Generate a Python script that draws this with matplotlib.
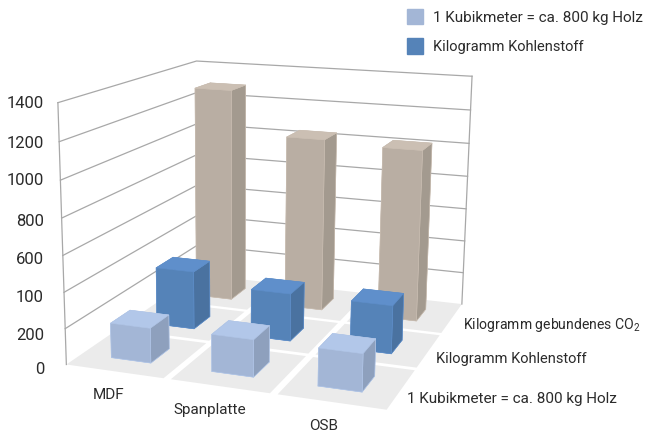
import matplotlib
matplotlib.use("Agg")
import matplotlib.pyplot as plt
from matplotlib.patches import Patch
from mpl_toolkits.mplot3d.art3d import Poly3DCollection

categories = ["MDF", "Spanplatte", "OSB"]
series = ["1 Kubikmeter = ca. 800 kg Holz", "Kilogramm Kohlenstoff", "Kilogramm gebundenes CO$_2$"]
holz = [195, 205, 205]
kohlenstoff = [340, 275, 275]
co2 = [1295, 1040, 1020]
z_ticks = [0, 200, 400, 600, 800, 1000, 1200, 1400]
z_labels = ["0", "200", "100", "600", "800", "1000", "1200", "1400"]

# front, side, top
holz_colors = ("#a3b6d6", "#8ea0bd", "#b2c7e9")
kohlenstoff_colors = ("#5583b8", "#4a72a0", "#5f8fcb")
co2_colors = ("#b9aea3", "#a39a8f", "#cbbfb3")
TEXT = "#2b2b2b"
GRID = "#a8a8a8"
TILE = "#ebebeb"

BAR_W = 0.40
BAR_D = 0.40
ROW_SHIFT = -0.0075
TILE_GAP = 0.035

# label places in pixels of the 646x432 picture
Z_LABEL_Y = [369, 335, 298, 260, 221, 180, 143, 104]
CATEGORY_XY = [(109, 395), (210, 410), (324, 426)]
SERIES_XY = [(407, 399), (436, 359), (463, 325)]
SERIES_SIZE = [11, 10.5, 10.1]

plt.rcParams["font.family"] = ["Roboto", "DejaVu Sans"]
plt.rcParams["mathtext.default"] = "regular"
plt.rcParams["font.size"] = 11

fig = plt.figure(figsize=(6.46, 4.32), dpi=100)
ax = fig.add_subplot(projection="3d", computed_zorder=False)


def draw_bar(col, row, value, colors, zorder):
    """One box, the faces go bottom, top, front, back, left, right"""
    front, side, top = colors
    ax.bar3d(col + 0.5 - BAR_W / 2 + row * ROW_SHIFT, row + 0.5 - BAR_D / 2, 0, BAR_W, BAR_D, value,
             color=[front, top, front, front, side, side], shade=False,
             edgecolor=top, linewidth=0.4, zorder=zorder)


def label(x, y, text, **kwargs):
    fig.text(x / 646, 1 - y / 432, text, color=TEXT, va="center", **kwargs)


# floor tiles, no gap along the outside of the floor
tiles = []
for col in range(len(categories)):
    for row in range(len(series)):
        x0 = col + TILE_GAP if col > 0 else 0
        x1 = col + 1 - TILE_GAP if col < 2 else 3
        y0 = row + TILE_GAP if row > 0 else 0
        y1 = row + 1 - TILE_GAP if row < 2 else 3
        tiles.append([(x0, y0, 0), (x1, y0, 0), (x1, y1, 0), (x0, y1, 0)])
ax.add_collection3d(Poly3DCollection(tiles, facecolor=TILE, edgecolor="none", zorder=1))

# walls
for z in z_ticks[1:]:
    ax.plot([0, 0, 3], [0, 3, 3], [z, z, z], color=GRID, lw=0.9, zorder=2)
ax.plot([0, 0], [0, 0], [0, 1400], color=GRID, lw=0.9, zorder=2)
ax.plot([3, 3], [3, 3], [0, 1400], color=GRID, lw=0.9, zorder=2)

# back row first so the front bars cover it
for row, (values, colors) in enumerate([(holz, holz_colors), (kohlenstoff, kohlenstoff_colors),
                                        (co2, co2_colors)]):
    for col, value in enumerate(values):
        draw_bar(col, row, value, colors, 10 + (2 - row) * 3 + col)

for y, text in zip(Z_LABEL_Y, z_labels):
    label(44, y, text, fontsize=12, ha="right")
for (x, y), text in zip(CATEGORY_XY, categories):
    label(x, y, text, ha="center")
for (x, y), text, size in zip(SERIES_XY, series, SERIES_SIZE):
    label(x, y, text, ha="left", fontsize=size)

ax.set_axis_off()
ax.set_xticks([])
ax.set_yticks([])
ax.set_zticks([])
ax.set_xlim(0, 3)
ax.set_ylim(0, 3)
ax.set_zlim(0, 1400)
ax.view_init(elev=13.94, azim=-70.67, roll=-0.525)
ax.set_proj_type("persp", focal_length=0.3737)
ax.set_box_aspect((1, 1.0195, 0.7996), zoom=0.7718)
ax.set_position([0.41905 - 0.5, 0.48650 - 0.5 * 6.46 / 4.32, 1, 6.46 / 4.32])

handles = [Patch(color=holz_colors[0]), Patch(color=kohlenstoff_colors[0])]
legend = fig.legend(handles, [series[0], series[1]], loc="upper left", bbox_to_anchor=(0.6185, 0.998),
                    frameon=False, handlelength=1.047, handleheight=1.233, handletextpad=0.65,
                    labelspacing=0.85, labelcolor=TEXT, borderpad=0.5, borderaxespad=0)
legend.get_texts()[1].set_fontsize(10.5)

fig.savefig("out.png", dpi=100)
